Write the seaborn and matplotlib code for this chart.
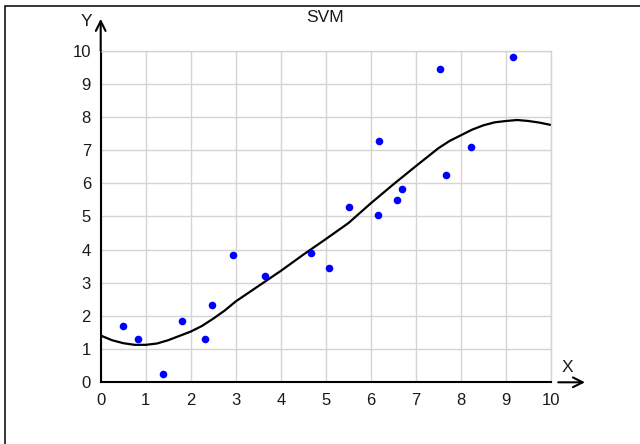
import matplotlib
matplotlib.use("Agg")
import matplotlib.pyplot as plt
from matplotlib.patches import Rectangle
import seaborn as sns

# Observed samples
sample_x = [0.49, 0.83, 1.38, 1.80, 2.32, 2.48, 2.93, 3.64, 4.68, 5.08,
            5.52, 6.16, 6.18, 6.58, 6.70, 7.54, 7.66, 8.23, 9.16]
sample_y = [1.70, 1.31, 0.26, 1.84, 1.31, 2.34, 3.84, 3.21, 3.91, 3.44,
            5.28, 5.05, 7.29, 5.51, 5.84, 9.45, 6.25, 7.09, 9.82]

# SVM regression prediction
fit_x = [0.0, 0.25, 0.5, 0.75, 1.0, 1.25, 1.5, 1.75, 2.0, 2.25, 2.5, 2.75,
         3.0, 3.5, 4.0, 4.5, 5.0, 5.5, 6.0, 6.5, 7.0, 7.5, 7.75, 8.0, 8.25,
         8.5, 8.75, 9.0, 9.25, 9.5, 9.75, 10.0]
fit_y = [1.41, 1.27, 1.18, 1.13, 1.13, 1.17, 1.27, 1.40, 1.53, 1.70, 1.92, 2.16,
         2.44, 2.90, 3.36, 3.85, 4.32, 4.80, 5.40, 5.97, 6.52, 7.06, 7.28, 7.45,
         7.62, 7.75, 7.84, 7.88, 7.91, 7.88, 7.83, 7.76]

x_ticks = list(range(0, 11))
y_ticks = list(range(0, 11))

sns.set_style("white")
plt.rcParams["font.family"] = ["Liberation Sans", "DejaVu Sans"]

W, H = 640, 444
fig = plt.figure(figsize=(W / 100, H / 100), dpi=100)
x0, x1 = 100.7, 551.0
y0, y1 = 382.3, 50.7
ax = fig.add_axes([x0 / W, 1 - y0 / H, (x1 - x0) / W, (y0 - y1) / H])

grid_c = "#d4d4d4"
ax.set_xlim(0, 10)
ax.set_ylim(0, 10)
ax.set_xticks(x_ticks)
ax.set_yticks(y_ticks)
ax.grid(True, color=grid_c, lw=1.0)
ax.set_axisbelow(True)

for side in ("top", "right"):
    ax.spines[side].set_color(grid_c)
    ax.spines[side].set_linewidth(1.0)
for side in ("left", "bottom"):
    ax.spines[side].set_color("black")
    ax.spines[side].set_linewidth(1.5)

ax.tick_params(axis="both", direction="out", length=5, width=1.5,
               color="black", labelsize=12, labelcolor="#1a1a1a")
ax.tick_params(axis="y", pad=2)
ax.tick_params(axis="x", pad=3)

sns.lineplot(x=fit_x, y=fit_y, color="black", lw=1.6, ax=ax, zorder=2)
sns.scatterplot(x=sample_x, y=sample_y, color="#0000ff", s=30, linewidth=0,
                ax=ax, zorder=3)
ax.set_xlabel("")
ax.set_ylabel("")

# Axis arrows
arrow = dict(arrowstyle="->,head_length=0.7,head_width=0.35", lw=1.5,
             color="black", shrinkA=0, shrinkB=0, mutation_scale=10)
ax.annotate("", xy=(0, 10.96), xytext=(0, 10), arrowprops=arrow,
            annotation_clip=False)
ax.annotate("", xy=(10.755, 0), xytext=(10.16, 0), arrowprops=arrow,
            annotation_clip=False)

fig.text(86 / W, 1 - 21 / H, "Y", ha="center", va="center", fontsize=12.5,
         color="#1a1a1a")
fig.text(567.5 / W, 1 - 368 / H, "X", ha="center", va="center", fontsize=12.5,
         color="#1a1a1a")
fig.text(325 / W, 1 - 17.5 / H, "SVM", ha="center", va="center", fontsize=12.5,
         color="#1a1a1a")

# Outer frame
fig.add_artist(Rectangle((4.7 / W, -1), 2, 2 - 6.3 / H, transform=fig.transFigure,
                         fill=False, ec="black", lw=1.1))

fig.savefig("out.png", dpi=100)
